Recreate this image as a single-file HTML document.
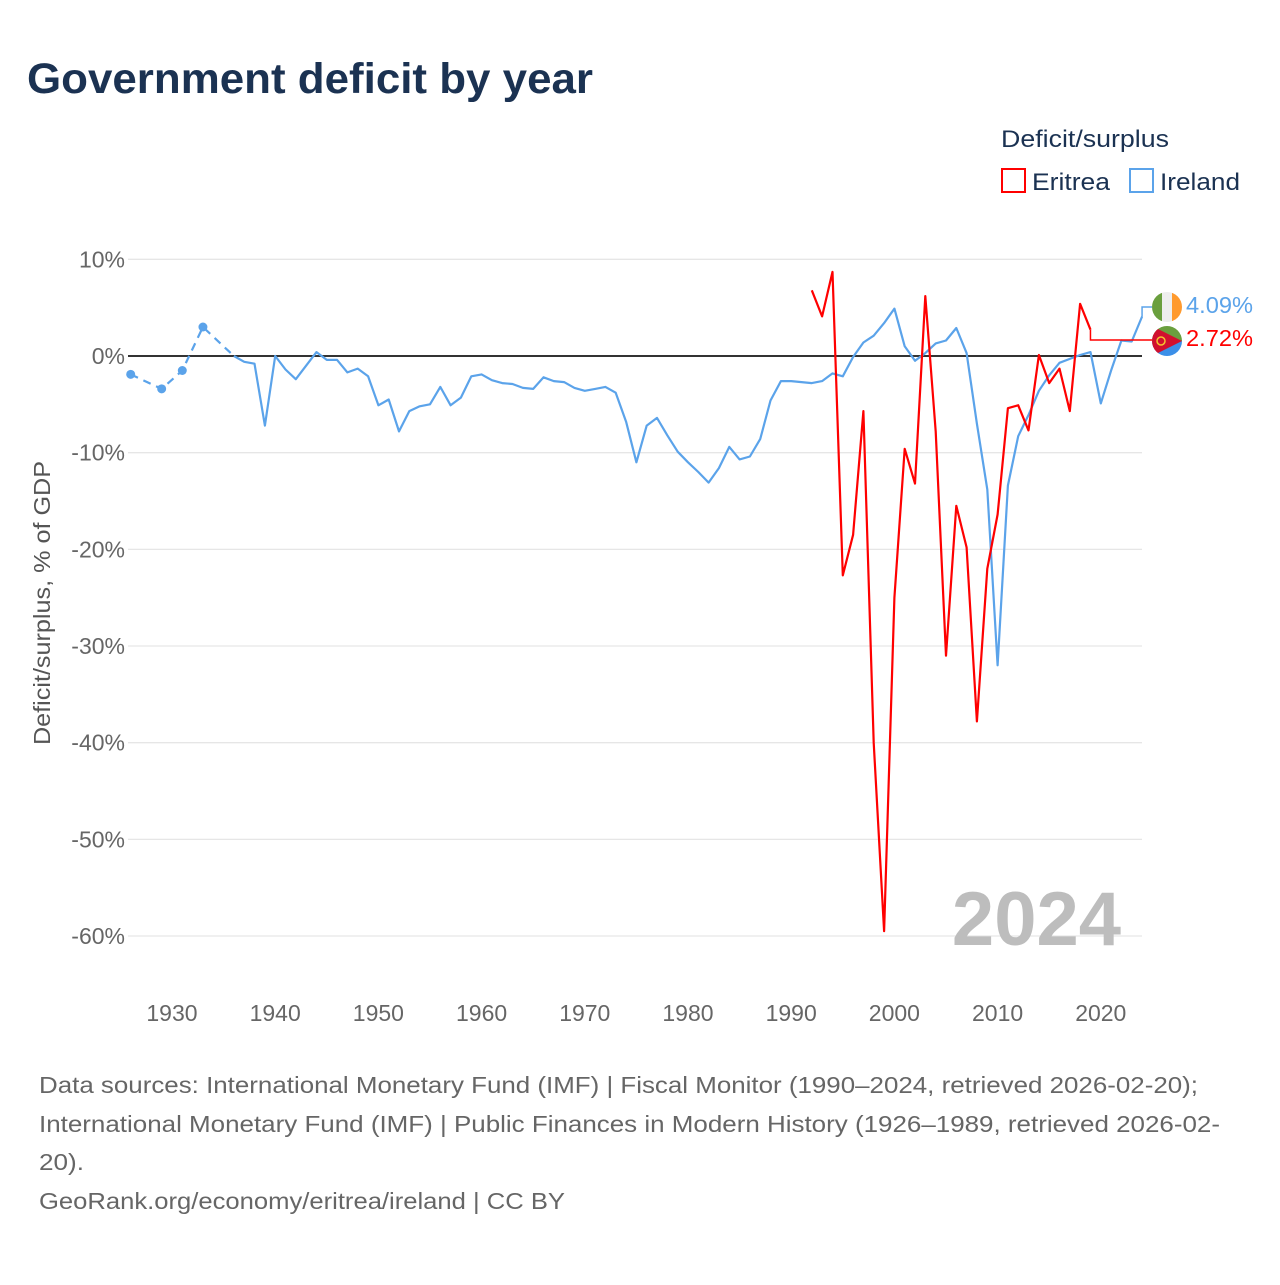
<!DOCTYPE html>
<html><head><meta charset="utf-8"><style>
body{margin:0;background:#fff;font-family:"Liberation Sans",sans-serif;}
svg text{font-family:"Liberation Sans",sans-serif;}
</style></head><body>
<svg id="chart" width="1280" height="1280" viewBox="0 0 1280 1280" xmlns="http://www.w3.org/2000/svg">
<rect width="1280" height="1280" fill="#fff"/>
<text x="27" y="93" font-size="43" font-weight="bold" fill="#1b3252" textLength="566" lengthAdjust="spacingAndGlyphs">Government deficit by year</text>
<text x="1001" y="147" font-size="24" fill="#1b3252" textLength="168" lengthAdjust="spacingAndGlyphs">Deficit/surplus</text>
<g><rect x="1002" y="169" width="23" height="23" fill="none" stroke="#ff0000" stroke-width="2"/><text x="1032" y="190" font-size="24" fill="#1b3252" textLength="78" lengthAdjust="spacingAndGlyphs">Eritrea</text></g>
<g><rect x="1130" y="169" width="23" height="23" fill="none" stroke="#5ba3ea" stroke-width="2"/><text x="1160" y="190" font-size="24" fill="#1b3252" textLength="80" lengthAdjust="spacingAndGlyphs">Ireland</text></g>
<g id="grid"></g>
<g id="yticks"></g>
<g id="xticks"></g>
<text transform="translate(50,603) rotate(-90)" text-anchor="middle" font-size="23" fill="#555" textLength="284" lengthAdjust="spacingAndGlyphs">Deficit/surplus, % of GDP</text>
<text x="1121" y="945" text-anchor="end" font-size="76" font-weight="bold" fill="#bdbdbd">2024</text>
<g id="series"></g>
<g>
<polyline id="ieLead" fill="none" stroke="#5ba3ea" stroke-width="1.5"/>
<polyline id="erLead" fill="none" stroke="#ff0000" stroke-width="1.5"/>
<g><clipPath id="c1"><circle cx="1167" cy="307" r="15"/></clipPath><g clip-path="url(#c1)"><rect x="1152" y="292" width="10" height="30" fill="#6a9f3e"/><rect x="1162" y="292" width="10" height="30" fill="#eeeeee"/><rect x="1172" y="292" width="10" height="30" fill="#ff9a2e"/></g></g>
<g><clipPath id="c2"><circle cx="1167" cy="341" r="15"/></clipPath><g clip-path="url(#c2)"><rect x="1152" y="326" width="30" height="15" fill="#6a9f3e"/><rect x="1152" y="341" width="30" height="15" fill="#3b8fe8"/><polygon points="1152,326 1182,341 1152,356" fill="#d1102e"/><circle cx="1161" cy="341" r="4" fill="none" stroke="#f4c430" stroke-width="1.5"/></g></g>
<text x="1186" y="313" font-size="23" fill="#5ba3ea" textLength="67" lengthAdjust="spacingAndGlyphs">4.09%</text>
<text x="1186" y="346" font-size="23" fill="#ff0000" textLength="67" lengthAdjust="spacingAndGlyphs">2.72%</text>
</g>
<g font-size="23" fill="#666">
<text x="39" y="1093" textLength="1159" lengthAdjust="spacingAndGlyphs">Data sources: International Monetary Fund (IMF) | Fiscal Monitor (1990–2024, retrieved 2026-02-20);</text>
<text x="39" y="1132" textLength="1181" lengthAdjust="spacingAndGlyphs">International Monetary Fund (IMF) | Public Finances in Modern History (1926–1989, retrieved 2026-02-</text>
<text x="39" y="1170" textLength="45" lengthAdjust="spacingAndGlyphs">20).</text>
<text x="39" y="1209" textLength="526" lengthAdjust="spacingAndGlyphs">GeoRank.org/economy/eritrea/ireland | CC BY</text>
</g>
</svg>
<script>
const yTicks=[10,0,-10,-20,-30,-40,-50,-60];
const yTickLabels=["10%","0%","-10%","-20%","-30%","-40%","-50%","-60%"];
const xTicks=[1930,1940,1950,1960,1970,1980,1990,2000,2010,2020];
const ieDashYears=[1926,1929,1931,1933,1936];
const ieDashVals=[-1.9,-3.4,-1.5,3.0,0.0];
const ieYears=[1936,1937,1938,1939,1940,1941,1942,1943,1944,1945,1946,1947,1948,1949,1950,1951,1952,1953,1954,1955,1956,1957,1958,1959,1960,1961,1962,1963,1964,1965,1966,1967,1968,1969,1970,1971,1972,1973,1974,1975,1976,1977,1978,1979,1980,1981,1982,1983,1984,1985,1986,1987,1988,1989,1990,1991,1992,1993,1994,1995,1996,1997,1998,1999,2000,2001,2002,2003,2004,2005,2006,2007,2008,2009,2010,2011,2012,2013,2014,2015,2016,2017,2018,2019,2020,2021,2022,2023,2024];
const ieVals=[0,-0.6,-0.8,-7.2,0,-1.4,-2.4,-1.0,0.4,-0.4,-0.4,-1.7,-1.3,-2.1,-5.1,-4.5,-7.8,-5.7,-5.2,-5.0,-3.2,-5.1,-4.3,-2.1,-1.9,-2.5,-2.8,-2.9,-3.3,-3.4,-2.2,-2.6,-2.7,-3.3,-3.6,-3.4,-3.2,-3.8,-6.8,-11.0,-7.2,-6.4,-8.2,-9.9,-11.0,-12.0,-13.1,-11.6,-9.4,-10.7,-10.4,-8.6,-4.6,-2.6,-2.6,-2.7,-2.8,-2.6,-1.8,-2.1,-0.1,1.4,2.1,3.4,4.9,1.0,-0.5,0.3,1.3,1.6,2.9,0.3,-7.0,-13.8,-32.0,-13.4,-8.3,-6.1,-3.6,-2.0,-0.7,-0.3,0.1,0.4,-4.9,-1.5,1.6,1.5,4.09];
const erYears=[1992,1993,1994,1995,1996,1997,1998,1999,2000,2001,2002,2003,2004,2005,2006,2007,2008,2009,2010,2011,2012,2013,2014,2015,2016,2017,2018,2019];
const erVals=[6.8,4.1,8.7,-22.7,-18.5,-5.7,-40.0,-59.5,-25.0,-9.6,-13.2,6.2,-7.8,-31.0,-15.5,-19.8,-37.8,-22.0,-16.4,-5.4,-5.1,-7.7,0.1,-2.8,-1.3,-5.7,5.4,2.72];

const NS="http://www.w3.org/2000/svg";
const X=y=>130.7+(y-1926)*10.32;
const Y=v=>356-v*9.667;
function mk(tag,attrs,parent){const e=document.createElementNS(NS,tag);for(const k in attrs)e.setAttribute(k,attrs[k]);parent.appendChild(e);return e;}
const grid=document.getElementById('grid'),yt=document.getElementById('yticks'),xt=document.getElementById('xticks'),ser=document.getElementById('series');
yTicks.forEach((t,i)=>{
  const l=mk('line',{x1:128,x2:1142,y1:Y(t),y2:Y(t),stroke:t===0?'#333':'#e6e6e6','stroke-width':t===0?2:1.3},grid);
  
  
  const tx=mk('text',{x:125,y:Y(t)+8,'text-anchor':'end','font-size':23,fill:'#666'},yt);
  tx.textContent=yTickLabels[i];
  
  
});
xTicks.forEach(t=>{
  const tx=mk('text',{x:X(t),y:1021,'text-anchor':'middle','font-size':23,fill:'#666'},xt);
  tx.textContent=t;
  
  
});
const pts=(ys,vs)=>ys.map((y,i)=>X(y).toFixed(1)+','+Y(vs[i]).toFixed(1)).join(' ');
const d=mk('polyline',{points:pts(ieDashYears,ieDashVals),fill:'none',stroke:'#5ba3ea','stroke-width':2.2,'stroke-dasharray':'8,6'},ser);


ieDashYears.slice(0,4).forEach((y,i)=>{
  const c=mk('circle',{cx:X(y),cy:Y(ieDashVals[i]),r:4.5,fill:'#5ba3ea'},ser);
  
  
});
const ie=mk('polyline',{points:pts(ieYears,ieVals),fill:'none',stroke:'#5ba3ea','stroke-width':2.2,'stroke-linejoin':'round'},ser);


const er=mk('polyline',{points:pts(erYears,erVals),fill:'none',stroke:'#ff0000','stroke-width':2.2,'stroke-linejoin':'round'},ser);


const ieL=ieYears.length-1, erL=erYears.length-1;
document.getElementById('ieLead').setAttribute('points',`${X(ieYears[ieL])},${Y(ieVals[ieL])} ${X(ieYears[ieL])},307 1152,307`);
document.getElementById('erLead').setAttribute('points',`${X(erYears[erL])},${Y(erVals[erL])} ${X(erYears[erL])},340 1152,340`);
</script>
</body></html>
